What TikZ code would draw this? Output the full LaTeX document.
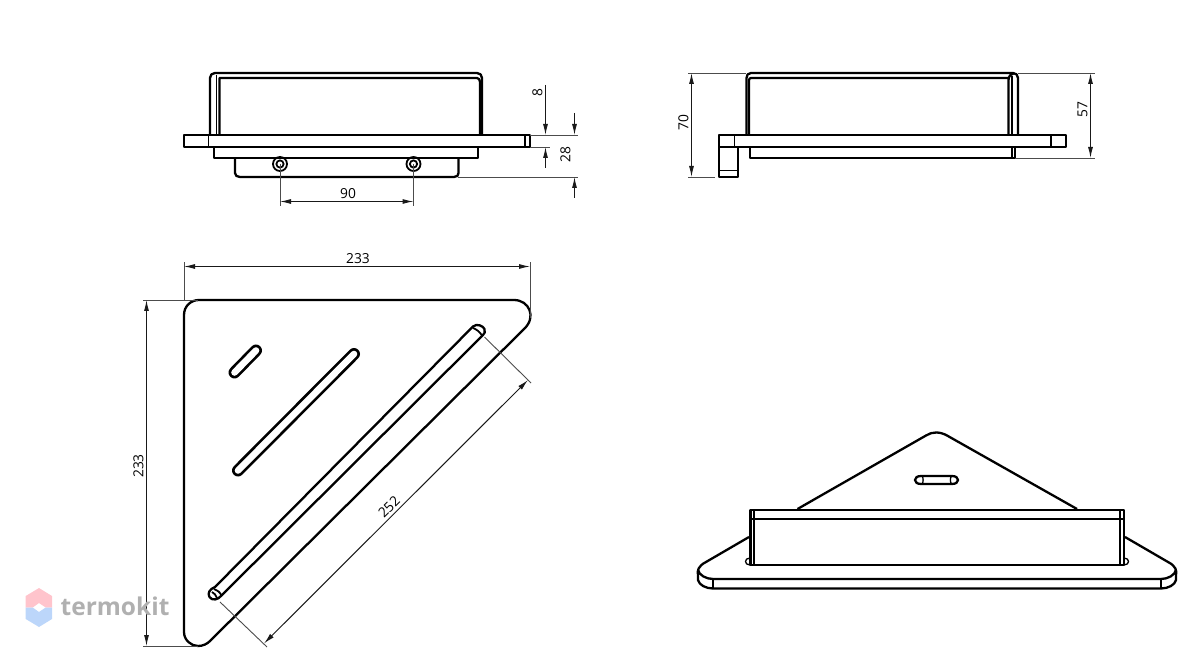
\documentclass[tikz,border=0pt]{standalone}
\usepackage{fontspec}
\setmainfont{Open Sans}
\usetikzlibrary{arrows.meta}
\definecolor{markgray}{HTML}{B0B0B0}
\definecolor{markpink}{HTML}{FFC4CC}
\definecolor{markblue}{HTML}{BCD6FA}
\tikzset{
outl/.style={line width=2.3pt, line join=round},
thinl/.style={line width=1.3pt},
extl/.style={line width=0.9pt, black!70},
diml/.style={line width=1pt, black!90},
both/.style={diml, {Latex[length=11pt,width=5pt]}-{Latex[length=11pt,width=5pt]}},
tip/.style={diml, -{Latex[length=11pt,width=5pt]}},
slot/.style={line width=2.7pt, double=white, double distance=6.6pt, line cap=round},
lbl/.style={font=\fontsize{13.8}{14}\selectfont, inner sep=0pt},
screw/.pic={
  \draw[line width=1.8pt] (0,0) circle [radius=7];
  \draw[line width=1.8pt] (0,0) circle [radius=3.6];
  },
}
\begin{document}
\begin{tikzpicture}[x=1pt,y=-1pt]
  \useasboundingbox (0,0) rectangle (1200,652);

  \draw[outl] (210,135) -- (210,78) .. controls (210,75) and (212,73) .. (215,73) -- (477,73) .. controls (480,73) and (482,75) .. (482,78) -- (482,135);
  \draw[outl] (219.5,135) -- (219.5,78) -- (477,78) .. controls (479,78) and (480,80) .. (480,82) -- (480,135);
  \draw[thinl] (216.5,135) -- (216.5,75);
  \draw[outl] (184,135) rectangle (530,147);
  \draw[thinl] (208.5,135) -- (208.5,147);
  \draw[outl] (525,135) -- (525,147);
  \draw[outl] (214,147) rectangle (478,158);
  \draw[outl] (235,158) -- (235,173) .. controls (235,175.5) and (237,177) .. (240,177) -- (454,177) .. controls (457,177) and (458.5,175.5) .. (458.5,173) -- (458.5,158);
  \pic at (280,164) {screw};
  \pic at (413.5,164) {screw};

  \coordinate (s1) at (280,164);
  \coordinate (s2) at (413.5,164);
  \coordinate (s1b) at (280,206);
  \coordinate (s2b) at (413.5,206);
  \coordinate (d1) at (280,201.5);
  \coordinate (d2) at (413.5,201.5);
  \draw[extl] (s1) -- (s1b);
  \draw[extl] (s2) -- (s2b);
  \draw[both] (d1) -- (d2);
  \node[lbl] (l90) at (348,193.5) {90};

  \coordinate (e1) at (530,135);
  \coordinate (e2) at (578,135);
  \coordinate (e3) at (530,147);
  \coordinate (e4) at (550,147);
  \coordinate (e5) at (458,177);
  \coordinate (e6) at (578,177);
  \draw[extl] (e1) -- (e2);
  \draw[extl] (e3) -- (e4);
  \draw[extl] (e5) -- (e6);
  \coordinate (a1) at (545.5,85);
  \coordinate (a2) at (545.5,135);
  \coordinate (a3) at (545.5,168);
  \coordinate (a4) at (545.5,147);
  \draw[tip] (a1) -- (a2);
  \draw[tip] (a3) -- (a4);
  \node[lbl, rotate=90] (l8) at (537.5,93) {8};
  \coordinate (b1) at (574.5,113);
  \coordinate (b2) at (574.5,135);
  \coordinate (b3) at (574.5,198);
  \coordinate (b4) at (574.5,177);
  \draw[tip] (b1) -- (b2);
  \draw[tip] (b3) -- (b4);
  \node[lbl, rotate=90] (l28) at (565.5,155) {28};

  \draw[outl] (746.5,135) -- (746.5,78) .. controls (746.5,75) and (748,73) .. (751,73) -- (1013,73) .. controls (1016,73) and (1018,75) .. (1018,78) -- (1018,135);
  \draw[outl] (749,135) -- (749,80) .. controls (749,79) and (750,78) .. (751,78) -- (1008,78);
  \draw[outl] (1008.5,135) -- (1008.5,80) .. controls (1008.5,76) and (1011,74) .. (1014,73);
  \draw[thinl] (1012,135) -- (1012,76);
  \draw[outl] (719,135) rectangle (1066,147);
  \draw[thinl] (734.5,135) -- (734.5,147);
  \draw[outl] (1051,135) -- (1051,147);
  \draw[outl] (750,147) rectangle (1015,158);
  \draw[thinl] (1012,147) -- (1012,158);
  \draw[outl] (719,147) rectangle (738,177);
  \draw[thinl] (719,170.5) -- (738,170.5);

  \coordinate (f1) at (688,73);
  \coordinate (f2) at (746,73);
  \coordinate (f3) at (688,177);
  \coordinate (f4) at (715,177);
  \coordinate (f5) at (1018,73);
  \coordinate (f6) at (1095,73);
  \coordinate (f7) at (1015,158);
  \coordinate (f8) at (1095,158);
  \draw[extl] (f1) -- (f2);
  \draw[extl] (f3) -- (f4);
  \draw[extl] (f5) -- (f6);
  \draw[extl] (f7) -- (f8);
  \coordinate (g1) at (691.5,73);
  \coordinate (g2) at (691.5,177);
  \coordinate (g3) at (1090.5,73);
  \coordinate (g4) at (1090.5,158);
  \draw[both] (g1) -- (g2);
  \draw[both] (g3) -- (g4);
  \node[lbl, rotate=90] (l70) at (683.5,123) {70};
  \node[lbl, rotate=90] (l57) at (1082.5,110) {57};

  \draw[outl] (199,300) -- (514,300) .. controls (529,300) and (537,317) .. (524,329) -- (210,641) .. controls (207,644) and (203,646) .. (198,646) .. controls (191,646) and (184,640) .. (184,632) -- (184,315) .. controls (184,306) and (191,300) .. (199,300) -- cycle;
  \draw[slot] (234.5,372.5) -- (256,350.5);
  \draw[slot] (238,470.5) -- (354,354);

  \draw[outl] (215,587) -- (473,326.5) .. controls (477,323) and (483,326) .. (484.5,329) .. controls (485.5,332) and (484.5,333.5) .. (483,335) -- (221.5,595.5) .. controls (218,600) and (212,601) .. (209.5,597) .. controls (207,593) and (210,589) .. (215,587);
  \draw[line width=1.8pt] (473,328) .. controls (476,329) and (480,332) .. (482,335.5);
  \draw[line width=1.8pt] (214,589) .. controls (217,590) and (220,592) .. (221.5,595.5);
  \draw[line width=1.8pt] (212,592) .. controls (214,593) and (216,595) .. (217,598);

  \coordinate (h1) at (184,300);
  \coordinate (h2) at (184,262);
  \coordinate (h3) at (530,318);
  \coordinate (h4) at (530,262);
  \coordinate (h5) at (198,300);
  \coordinate (h6) at (143,300);
  \coordinate (h7) at (198,646);
  \coordinate (h8) at (143,646);
  \draw[extl] (h1) -- (h2);
  \draw[extl] (h3) -- (h4);
  \draw[extl] (h5) -- (h6);
  \draw[extl] (h7) -- (h8);
  \coordinate (k1) at (184,266.5);
  \coordinate (k2) at (530,266.5);
  \coordinate (k3) at (146.5,300);
  \coordinate (k4) at (146.5,646);
  \draw[both] (k1) -- (k2);
  \draw[both] (k3) -- (k4);
  \node[lbl] (l233a) at (358,258.5) {233};
  \node[lbl, rotate=90] (l233b) at (138.5,466) {233};

  \coordinate (m1) at (484.5,337);
  \coordinate (m2) at (531,383);
  \coordinate (m3) at (220,602);
  \coordinate (m4) at (267,647);
  \coordinate (n1) at (528,380);
  \coordinate (n2) at (264,643.5);
  \draw[extl] (m1) -- (m2);
  \draw[extl] (m3) -- (m4);
  \draw[both] (n1) -- (n2);
  \node[lbl, rotate=45] (l252) at (389,507) {252};

  \draw[outl] (797.5,509) -- (926,435.5) .. controls (932,431.5) and (940,431.5) .. (947,435.5) -- (1077,509);
  \draw[outl] (921,476) -- (952,476) .. controls (960,476) and (960,484) .. (952,484) -- (921,484) .. controls (913,484) and (913,476) .. (921,476) -- cycle;
  \draw[thinl] (922,476) .. controls (923.5,478) and (923.5,482) .. (922,484);
  \draw[thinl] (951.5,476) .. controls (950,478) and (950,482) .. (951.5,484);
  \draw[outl] (750.5,510) rectangle (1124,565);
  \draw[thinl] (750.5,519) -- (1124,519);
  \draw[thinl] (754,510) -- (754,565);
  \draw[thinl] (1120,510) -- (1120,565);
  \draw[thinl] (750,558) .. controls (744,558) and (744,565) .. (750,565);
  \draw[thinl] (1124,558) .. controls (1130,558) and (1130,565) .. (1124,565);
  \draw[outl] (749,537) -- (706,562) .. controls (698,566) and (697,571) .. (698,575) -- (698,580) .. controls (699,585) and (706,588.5) .. (713,588.5) -- (1161,588.5) .. controls (1168,588.5) and (1175,585) .. (1176,580) -- (1176,575) .. controls (1177,571) and (1176,566) .. (1168,562) -- (1125,537);
  \draw[outl] (698,570) .. controls (699,575) and (706,579) .. (713,579) -- (1161,579) .. controls (1168,579) and (1175,575) .. (1176,570);
  \draw[thinl] (713,579) -- (713,588.5);
  \draw[thinl] (1161,579) -- (1161,588.5);

  \fill[markpink] (39,588) -- (52,596) -- (52,607.5) -- (45.7,607.5) -- (39,603) -- (32.7,607.5) -- (25.7,607.5) -- (25.7,596) -- cycle;
  \fill[markblue] (25.7,607.5) -- (32.7,607.5) -- (39,612) -- (45.7,607.5) -- (52,607.5) -- (52,619) -- (39,627) -- (25.7,619) -- cycle;
  \node[anchor=base west, inner sep=0pt, text=markgray, font=\fontsize{24.5}{26}\selectfont\bfseries] (markname) at (60.5,615.5) {termokit};
\end{tikzpicture}
\end{document}
